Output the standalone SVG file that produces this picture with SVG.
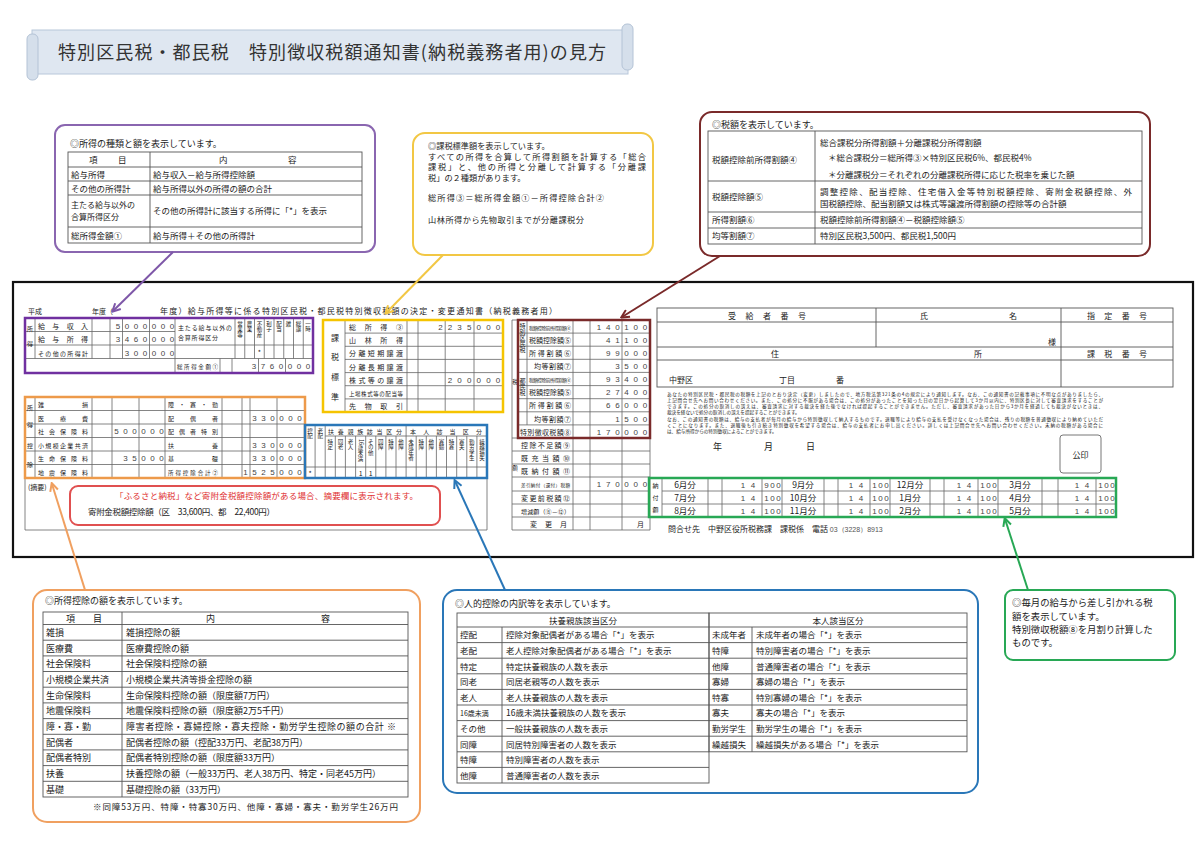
<svg xmlns="http://www.w3.org/2000/svg" width="1200" height="861" viewBox="0 0 1200 861">
<defs>
<style>
text{font-family:"Noto Sans CJK JP","Noto Sans",sans-serif;fill:#222}
.c9{font-size:9px}
.c85{font-size:8.5px}
.f8{font-size:8px}
.f7{font-size:7px}
.f6{font-size:6px}
.f5{font-size:5.5px}
.f45{font-size:4.6px}
.n{font-family:"Liberation Sans",Arial,sans-serif;font-size:8px;text-anchor:middle;fill:#444}
.m{text-anchor:middle}
.v{writing-mode:vertical-rl}
.gl{stroke:#666;stroke-width:0.8;fill:none}
.tb{stroke:#555;stroke-width:0.9;fill:none}
.co{fill:#fff;stroke-width:2}
</style>
<marker id="aP" viewBox="0 0 10 10" refX="8" refY="5" markerWidth="5" markerHeight="5" orient="auto"><path d="M1,1L9,5L1,9" fill="none" stroke="#7e57a8" stroke-width="2"/></marker>
<marker id="aY" viewBox="0 0 10 10" refX="8" refY="5" markerWidth="5" markerHeight="5" orient="auto"><path d="M1,1L9,5L1,9" fill="none" stroke="#f2c744" stroke-width="2"/></marker>
<marker id="aB" viewBox="0 0 10 10" refX="8" refY="5" markerWidth="5" markerHeight="5" orient="auto"><path d="M1,1L9,5L1,9" fill="none" stroke="#7a2a2a" stroke-width="2"/></marker>
<marker id="aO" viewBox="0 0 10 10" refX="8" refY="5" markerWidth="5" markerHeight="5" orient="auto"><path d="M1,1L9,5L1,9" fill="none" stroke="#f0a060" stroke-width="2"/></marker>
<marker id="aL" viewBox="0 0 10 10" refX="8" refY="5" markerWidth="5" markerHeight="5" orient="auto"><path d="M1,1L9,5L1,9" fill="none" stroke="#2a77b8" stroke-width="2"/></marker>
<marker id="aG" viewBox="0 0 10 10" refX="8" refY="5" markerWidth="5" markerHeight="5" orient="auto"><path d="M1,1L9,5L1,9" fill="none" stroke="#28a855" stroke-width="2"/></marker>
</defs>
<rect width="1200" height="861" fill="#fff"/>

<g id="title">
<rect x="32" y="30" width="596" height="44" fill="#dfe7f1" stroke="#b8c7da"/>
<rect x="27" y="34" width="11" height="46" rx="5" fill="#d5dfeb" stroke="#b4c3d6"/>
<rect x="622" y="24" width="11" height="46" rx="5" fill="#d5dfeb" stroke="#b4c3d6"/>
<text x="58" y="58.5" font-size="18" textLength="548" style="fill:#333">特別区民税・都民税　特別徴収税額通知書(納税義務者用)の見方</text>
</g>

<g id="callout-income">
<rect x="55" y="125" width="320" height="127" rx="10" class="co" stroke="#8a66b0"/>
<text x="70" y="147" class="c9">◎所得の種類と額を表示しています。</text>
<rect x="68" y="152" width="294" height="91" class="tb"/>
<path class="tb" d="M150 152V243M68 167H362M68 181H362M68 195H362M68 227H362"/>
<g class="c85">
<text x="89" y="163">項</text><text x="118" y="163">目</text>
<text x="219" y="163">内</text><text x="288" y="163">容</text>
<text x="71" y="177.5">給与所得</text><text x="153" y="177.5">給与収入－給与所得控除額</text>
<text x="71" y="191.5">その他の所得計</text><text x="153" y="191.5">給与所得以外の所得の額の合計</text>
<text x="71" y="207.5" class="f8">主たる給与以外の</text><text x="71" y="219.5" class="f8">合算所得区分</text>
<text x="153" y="214">その他の所得計に該当する所得に「*」を表示</text>
<text x="71" y="238.5">総所得金額①</text><text x="153" y="238.5">給与所得＋その他の所得計</text>
</g>
</g>

<g id="callout-taxbase">
<rect x="413" y="133" width="240" height="122" rx="12" class="co" stroke="#f2c744"/>
<g style="font-size:8.2px">
<text x="428" y="149">◎課税標準額を表示しています。</text>
<text x="428" y="159.5" textLength="218">すべての所得を合算して所得割額を計算する「総合</text>
<text x="428" y="170" textLength="218">課税」と、他の所得と分離して計算する「分離課</text>
<text x="428" y="180.5">税」の２種類があります。</text>
<text x="428" y="201" textLength="176">総所得③＝総所得金額①－所得控除合計②</text>
<text x="428" y="223" textLength="156">山林所得から先物取引までが分離課税分</text>
</g>
</g>

<g id="callout-taxamount">
<rect x="700" y="112" width="450" height="144" rx="12" class="co" stroke="#7a2a2a"/>
<text x="712" y="128" class="c9">◎税額を表示しています。</text>
<rect x="708" y="131" width="434" height="113" class="tb"/>
<path class="tb" d="M815 131V244M708 181H1142M708 212H1142M708 228H1142"/>
<g class="c85">
<text x="712" y="163">税額控除前所得割額④</text>
<text x="820" y="146">総合課税分所得割額＋分離課税分所得割額</text>
<text x="828" y="161">＊総合課税分＝総所得③×特別区民税6%、都民税4%</text>
<text x="828" y="178">＊分離課税分＝それぞれの分離課税所得に応じた税率を乗じた額</text>
<text x="712" y="200">税額控除額⑤</text>
<text x="820" y="195" textLength="312">調整控除、配当控除、住宅借入金等特別税額控除、寄附金税額控除、外</text>
<text x="820" y="207">国税額控除、配当割額又は株式等譲渡所得割額の控除等の合計額</text>
<text x="712" y="223">所得割額⑥</text><text x="820" y="223">税額控除前所得割額④－税額控除額⑤</text>
<text x="712" y="239">均等割額⑦</text><text x="820" y="239">特別区民税3,500円、都民税1,500円</text>
</g>
</g>

<g id="notice-form">
<rect x="13" y="282" width="1180" height="275" fill="none" stroke="#111" stroke-width="2.2"/>
<text x="28" y="314" class="f7">平成</text>
<text x="92" y="314" class="f7">年度（</text>
<text x="160" y="314" class="f8" textLength="397">年度）給与所得等に係る特別区民税・都民税特別徴収税額の決定・変更通知書（納税義務者用）</text>
<path class="gl" d="M25 478V530H487V478"/>
<text x="28" y="490" class="f7">(摘要)</text>
</g>

<g id="form-income">
<path class="gl" d="M25 331.5H175M25 345H313M25 358.5H313M35 318V358.5M92 318V358.5M110 318V358.5M122.5 318V358.5M149.5 318V358.5M175 318V373M235 318V358.5M244.75 318V358.5M254.5 318V358.5M264.25 318V358.5M274 318V358.5M283.75 318V358.5M293.5 318V358.5M303.25 318V358.5M220 358.5V373M232 358.5V373M258.5 358.5V373M285.5 358.5V373"/>
<text x="30" y="331" class="f6 m">所</text><text x="30" y="346" class="f6 m">得</text>
<text x="38" y="328.5" class="f7" textLength="50">給与収入</text>
<text x="38" y="342" class="f7" textLength="50">給与所得</text>
<text x="38" y="355.5" class="f6" textLength="50">その他の所得計</text>
<text x="118 127 136 145 154 163 172" y="328.5" class="n">5000000</text>
<text x="118 127 136 145 154 163 172" y="342" class="n">3460000</text>
<text x="127 136 145 154 163 172" y="355.5" class="n">300000</text>
<text x="178" y="330" class="f6" textLength="54">主たる給与以外の</text>
<text x="178" y="340" class="f6" textLength="40">合算所得区分</text>
<g class="f5 v">
<text x="239.9" y="321">営業等</text><text x="249.6" y="321">農業</text><text x="259.4" y="321">不動産</text><text x="269.1" y="321">利子</text>
<text x="278.9" y="321">配当</text><text x="288.6" y="321">雑</text><text x="298.4" y="321">総譲</text><text x="308.1" y="321">一時</text>
</g>
<text x="259.4" y="355" class="f7 m">*</text>
<text x="177" y="368.5" class="f5" textLength="41">総所得金額①</text>
<text x="254 263 272 281 290 299 308" y="369" class="n">3760000</text>
<rect x="25" y="318" width="288" height="55" fill="none" stroke="#7030a0" stroke-width="2.5"/>
</g>

<g id="form-deduction">
<path class="gl" d="M25 410.5H305M25 424H305M25 437.5H305M25 451H305M25 464.5H305M35 397V478M92 397V478M112 397V478M139 397V478M165 397V478M222 397V478M242 397V478M250 397V478M277 397V478"/>
<text x="30" y="410" class="f6 m">所</text><text x="30" y="427" class="f6 m">得</text><text x="30" y="448" class="f6 m">控</text><text x="30" y="467" class="f6 m">除</text>
<g class="f6">
<text x="38" y="407" textLength="50">雑損</text>
<text x="38" y="420.5" textLength="50">医療費</text>
<text x="38" y="434" textLength="50">社会保険料</text>
<text x="38" y="447.5" textLength="50">小規模企業共済</text>
<text x="38" y="461" textLength="50">生命保険料</text>
<text x="38" y="474.5" textLength="50">地震保険料</text>
<text x="168" y="407" textLength="50">障・寡・勤</text>
<text x="168" y="420.5" textLength="50">配偶者</text>
<text x="168" y="434" textLength="50">配偶者特別</text>
<text x="168" y="447.5" textLength="50">扶養</text>
<text x="168" y="461" textLength="50">基礎</text>
<text x="168" y="474.5" class="f5" textLength="50">所得控除合計②</text>
</g>
<text x="116.5 125.5 134.5 143.5 152.5 161.5" y="434" class="n">500000</text>
<text x="125.5 134.5 143.5 152.5 161.5" y="461" class="n">35000</text>
<text x="254.5 263.5 272.5 281.5 290.5 299.5" y="420.5" class="n">330000</text>
<text x="254.5 263.5 272.5 281.5 290.5 299.5" y="447.5" class="n">330000</text>
<text x="254.5 263.5 272.5 281.5 290.5 299.5" y="461" class="n">330000</text>
<text x="245.5 254.5 263.5 272.5 281.5 290.5 299.5" y="474.5" class="n">1525000</text>
<rect x="25" y="397" width="280" height="81" fill="none" stroke="#ed9a4a" stroke-width="2.5"/>
</g>

<g id="form-taxbase">
<path class="gl" d="M345 333.1H503M345 346.3H503M345 359.4H503M345 372.6H503M345 385.7H503M345 398.9H503M345 320V412M407 320V412M418 320V412M445.2 320V412M474 320V412"/>
<text x="335" y="341" class="f8 m">課</text><text x="335" y="360" class="f8 m">税</text><text x="335" y="380" class="f8 m">標</text><text x="335" y="400" class="f8 m">準</text>
<g class="f7">
<text x="349" y="330" textLength="54">総所得③</text>
<text x="349" y="343" textLength="54">山林所得</text>
<text x="349" y="356" textLength="54">分離短期譲渡</text>
<text x="349" y="369.5" textLength="54">分離長期譲渡</text>
<text x="349" y="382.5" textLength="54">株式等の譲渡</text>
<text x="349" y="395.5" class="f5" textLength="54">上場株式等の配当等</text>
<text x="349" y="409" textLength="54">先物取引</text>
</g>
<text x="440.4 450 459.6 469.2 478.8 488.4 498" y="330" class="n">2235000</text>
<text x="450 459.6 469.2 478.8 488.4 498" y="382.5" class="n">200000</text>
<rect x="323" y="320" width="180" height="92" fill="none" stroke="#f5c400" stroke-width="2.5"/>
</g>

<g id="form-personal">
<path class="gl" d="M325.2 436H487M305 467H487M315.1 425V478M325.2 425V478M335.3 436V478M345.4 436V478M355.6 436V478M365.7 436V478M375.8 436V478M385.9 436V478M396 436V478M406.1 425V478M416.2 436V478M426.3 436V478M436.4 436V478M446.5 436V478M456.7 436V478M466.8 436V478M476.9 436V478"/>
<text x="328" y="433.5" class="f6" textLength="74">扶養親族該当区分</text>
<text x="410" y="433.5" class="f6" textLength="72">本人該当区分</text>
<g class="f5 v">
<text x="310.1" y="428">控配</text><text x="320.2" y="428">老配</text>
<text x="330.3" y="439">特定</text><text x="340.4" y="439">同老</text><text x="350.5" y="439">老人</text><text x="360.6" y="439">16歳未満</text>
<text x="370.7" y="439">その他</text><text x="380.8" y="439">同障</text><text x="390.9" y="439">特障</text><text x="401" y="439">他障</text>
<text x="411.1" y="439">未成年者</text><text x="421.2" y="439">特障</text><text x="431.3" y="439">他障</text><text x="441.4" y="439">寡婦</text>
<text x="451.6" y="439">特寡</text><text x="461.7" y="439">寡夫</text><text x="471.8" y="439">勤労学生</text><text x="481.9" y="439">繰越損失</text>
</g>
<text x="310.1" y="476" class="f7 m">*</text>
<text x="360.6" y="476" class="f7 m">1</text><text x="370.7" y="476" class="f7 m">1</text>
<rect x="305" y="425" width="182" height="53" fill="none" stroke="#2a77b8" stroke-width="2.5"/>
</g>

<g id="form-taxamount">
<path class="gl" d="M512 320V530M512 320H518M518 333.1H650M518 346.2H650M518 359.3H650M518 372.4H650M518 385.6H650M518 398.7H650M518 411.8H650M518 424.9H650M527 320V424.9M573 320V530M590 320V530M622 320V530M650 438V530M512 438H650M512 451H650M512 464H650M512 477H650M512 491H650M512 504H650M512 517H650M512 530H650"/>
<text x="515" y="384" class="f5 m">税</text><text x="515" y="470" class="f5 m">額</text>
<text x="522.5" y="323" class="f6 v">特別区民税</text>
<text x="522.5" y="378" class="f6 v">都民税</text>
<text x="529" y="330" class="f45" textLength="42">税額控除前所得割額④</text>
<text x="529" y="343" class="f7" textLength="42">税額控除額⑤</text>
<text x="529" y="356" class="f7" textLength="42">所得割額⑥</text>
<text x="534" y="369" class="f7" textLength="37">均等割額⑦</text>
<text x="529" y="382" class="f45" textLength="42">税額控除前所得割額④</text>
<text x="529" y="395" class="f7" textLength="42">税額控除額⑤</text>
<text x="529" y="408" class="f7" textLength="42">所得割額⑥</text>
<text x="534" y="421.5" class="f7" textLength="37">均等割額⑦</text>
<text x="520" y="434.5" class="f7" textLength="51">特別徴収税額⑧</text>
<text x="599 608.2 617.4 626.6 635.8 645" y="330" class="n">140100</text>
<text x="608.2 617.4 626.6 635.8 645" y="343" class="n">41100</text>
<text x="608.2 617.4 626.6 635.8 645" y="356" class="n">99000</text>
<text x="617.4 626.6 635.8 645" y="369" class="n">3500</text>
<text x="608.2 617.4 626.6 635.8 645" y="382" class="n">93400</text>
<text x="608.2 617.4 626.6 635.8 645" y="395" class="n">27400</text>
<text x="608.2 617.4 626.6 635.8 645" y="408" class="n">66000</text>
<text x="617.4 626.6 635.8 645" y="421.5" class="n">1500</text>
<text x="599 608.2 617.4 626.6 635.8 645" y="434.5" class="n">170000</text>
<text x="521" y="447.5" class="f7" textLength="49">控除不足額⑨</text>
<text x="521" y="460.5" class="f7" textLength="49">既充当額⑩</text>
<text x="521" y="473.5" class="f7" textLength="49">既納付額⑪</text>
<text x="521" y="486.5" class="f45" textLength="49">差引納付（還付）税額</text>
<text x="599 608.2 617.4 626.6 635.8 645" y="487" class="n">170000</text>
<text x="521" y="500.5" class="f7" textLength="49">変更前税額⑫</text>
<text x="521" y="513.5" class="f6" textLength="49">増減額（⑧－⑫）</text>
<text x="530" y="526.5" class="f7" textLength="37">変更月</text>
<text x="637" y="526.5" class="f7">月</text>
<rect x="518" y="320" width="132" height="118" fill="none" stroke="#7a2a2a" stroke-width="2.5"/>
</g>

<g id="form-recipient">
<rect x="657" y="308" width="516" height="79" class="tb"/>
<path class="tb" d="M657 322H1173M657 347H1173M657 360H1173M876 308V347M1061 308V387"/>
<g class="f8">
<text x="728" y="318.5" textLength="78">受給者番号</text>
<text x="920" y="318.5">氏</text><text x="1009" y="318.5">名</text>
<text x="1087" y="318.5" textLength="60">指定番号</text>
<text x="1048" y="345">様</text>
<text x="771" y="357">住</text><text x="974" y="357">所</text>
<text x="1087" y="357" textLength="60">課税番号</text>
<text x="669" y="383">中野区</text><text x="779" y="383">丁目</text><text x="836" y="383">番</text>
</g>
<g class="f45">
<text x="667" y="396" textLength="436">あなたの特別区民税・都民税の税額を上記のとおり決定（変更）しましたので、地方税法第321条の4の規定により通知します。なお、この通知書の記載事項に不明な点がありましたら、</text>
<text x="667" y="402" textLength="436">上記問合せ先へお問い合わせください。また、この処分に不服がある場合は、この処分があったことを知った日の翌日から起算して3か月以内に、特別区長に対して審査請求をすることが</text>
<text x="667" y="408" textLength="436">できます。この処分の取消しの訴えは、審査請求に対する裁決を経た後でなければ提起することができません。ただし、審査請求があった日から3か月を経過しても裁決がないときは、</text>
<text x="667" y="414">裁決を経ないで処分の取消しの訴えを提起することができます。</text>
<text x="667" y="421" textLength="436">なお、この通知書の税額は、給与の支払者が毎月の給与から特別徴収して納入するものです。退職等により給与の支払を受けなくなった場合は、残りの税額を普通徴収により納めていただ</text>
<text x="667" y="427" textLength="436">くことになります。また、退職後も引き続き特別徴収を希望する場合は、給与の支払者にお申し出ください。詳しくは上記問合せ先へお問い合わせください。未納の税額がある場合に</text>
<text x="667" y="433">は、給与所得からの特別徴収によることができます。</text>
</g>
<text x="713" y="450" class="c9">年</text><text x="764" y="450" class="c9">月</text><text x="806" y="450" class="c9">日</text>
<rect x="1060" y="435" width="41" height="38" rx="3" fill="none" stroke="#777" stroke-width="1"/>
<text x="1080.5" y="458" class="f8 m">公印</text>
<text x="668" y="532" class="f8">問合せ先　中野区役所税務課　課税係　電話 <tspan style="font-family:'Liberation Sans',sans-serif;font-size:7px;fill:#555">03（3228）8913</tspan></text>
</g>

<g id="form-monthly">
<path class="gl" d="M662 491H1116M662 504H1116M662 478V517M708 478V517M722 478V517M762 478V517M782 478V517M824 478V517M838 478V517M870 478V517M890 478V517M930 478V517M944 478V517M978 478V517M998 478V517M1042 478V517M1058 478V517M1096 478V517"/>
<text x="655.5" y="488" class="f6 m">納</text><text x="655.5" y="500" class="f6 m">付</text><text x="655.5" y="512" class="f6 m">額</text>
<g class="c85 m">
<text x="685" y="488">6月分</text><text x="803" y="488">9月分</text><text x="910" y="488">12月分</text><text x="1020" y="488">3月分</text>
<text x="685" y="501">7月分</text><text x="803" y="501">10月分</text><text x="910" y="501">1月分</text><text x="1020" y="501">4月分</text>
<text x="685" y="514">8月分</text><text x="803" y="514">11月分</text><text x="910" y="514">2月分</text><text x="1020" y="514">5月分</text>
</g>
<text x="743 753 766.5 772.5 778.5" y="488" class="n">14900</text>
<text x="743 753 766.5 772.5 778.5" y="501" class="n">14100</text>
<text x="743 753 766.5 772.5 778.5" y="514" class="n">14100</text>
<text x="851 861 874.5 880.5 886.5" y="488" class="n">14100</text>
<text x="851 861 874.5 880.5 886.5" y="501" class="n">14100</text>
<text x="851 861 874.5 880.5 886.5" y="514" class="n">14100</text>
<text x="959 969 982.5 988.5 994.5" y="488" class="n">14100</text>
<text x="959 969 982.5 988.5 994.5" y="501" class="n">14100</text>
<text x="959 969 982.5 988.5 994.5" y="514" class="n">14100</text>
<text x="1077 1087 1100.5 1106.5 1112.5" y="488" class="n">14100</text>
<text x="1077 1087 1100.5 1106.5 1112.5" y="501" class="n">14100</text>
<text x="1077 1087 1100.5 1106.5 1112.5" y="514" class="n">14100</text>
<rect x="649" y="478" width="467" height="39" fill="none" stroke="#28a855" stroke-width="2.5"/>
</g>

<g id="note-furusato">
<rect x="70" y="486" width="370" height="39" rx="8" fill="#fff" stroke="#e05050" stroke-width="2"/>
<text x="115" y="499" class="c85" textLength="303" style="fill:#e03030">「ふるさと納税」など寄附金税額控除額がある場合、摘要欄に表示されます。</text>
<text x="88" y="515" class="c85" textLength="187">寄附金税額控除額（区　33,600円、都　22,400円）</text>
</g>

<g id="callout-deduction">
<rect x="33" y="590" width="387" height="232" rx="14" class="co" stroke="#f0a060"/>
<text x="45" y="604" class="c9">◎所得控除の額を表示しています。</text>
<rect x="43" y="612" width="365" height="185" class="tb"/>
<path class="tb" d="M122 612V797M43 624.5H408M43 640.2H408M43 655.9H408M43 671.5H408M43 687.2H408M43 702.9H408M43 718.6H408M43 734.3H408M43 749.9H408M43 765.6H408M43 781.3H408"/>
<g class="c9">
<text x="66" y="621.5">項</text><text x="93" y="621.5">目</text><text x="206" y="621.5">内</text><text x="321" y="621.5">容</text>
<text x="46" y="635.8">雑損</text><text x="126" y="635.8">雑損控除の額</text>
<text x="46" y="651.5">医療費</text><text x="126" y="651.5">医療費控除の額</text>
<text x="46" y="667.2">社会保険料</text><text x="126" y="667.2">社会保険料控除の額</text>
<text x="46" y="682.8">小規模企業共済</text><text x="126" y="682.8">小規模企業共済等掛金控除の額</text>
<text x="46" y="698.5">生命保険料</text><text x="126" y="698.5">生命保険料控除の額（限度額7万円）</text>
<text x="46" y="714.2">地震保険料</text><text x="126" y="714.2">地震保険料控除の額（限度額2万5千円）</text>
<text x="46" y="729.9">障・寡・勤</text><text x="126" y="729.9" textLength="270">障害者控除・寡婦控除・寡夫控除・勤労学生控除の額の合計 ※</text>
<text x="46" y="745.6">配偶者</text><text x="126" y="745.6">配偶者控除の額（控配33万円、老配38万円）</text>
<text x="46" y="761.2">配偶者特別</text><text x="126" y="761.2">配偶者特別控除の額（限度額33万円）</text>
<text x="46" y="776.9">扶養</text><text x="126" y="776.9">扶養控除の額（一般33万円、老人38万円、特定・同老45万円）</text>
<text x="46" y="792.6">基礎</text><text x="126" y="792.6">基礎控除の額（33万円）</text>
</g>
<text x="93" y="810" class="c85" textLength="305">※同障53万円、特障・特寡30万円、他障・寡婦・寡夫・勤労学生26万円</text>
</g>

<g id="callout-personal">
<rect x="443" y="590" width="535" height="203" rx="14" class="co" stroke="#2a77b8"/>
<text x="455" y="607" class="c9">◎人的控除の内訳等を表示しています。</text>
<rect x="457" y="613" width="252" height="170" class="tb"/>
<rect x="709" y="613" width="258" height="138.8" class="tb"/>
<path class="tb" d="M457 627H967M457 642.6H967M457 658.2H967M457 673.8H967M457 689.4H967M457 705H967M457 720.6H967M457 736.2H967M457 751.8H709M457 767.4H709M502 627V783M752 627V751.8"/>
<g class="c85">
<text x="583" y="623.5" class="m">扶養親族該当区分</text><text x="838" y="623.5" class="m">本人該当区分</text>
<text x="460" y="638.3">控配</text><text x="506" y="638.3">控除対象配偶者がある場合「*」を表示</text>
<text x="460" y="653.9">老配</text><text x="506" y="653.9">老人控除対象配偶者がある場合「*」を表示</text>
<text x="460" y="669.5">特定</text><text x="506" y="669.5">特定扶養親族の人数を表示</text>
<text x="460" y="685.1">同老</text><text x="506" y="685.1">同居老親等の人数を表示</text>
<text x="460" y="700.7">老人</text><text x="506" y="700.7">老人扶養親族の人数を表示</text>
<text x="460" y="716.3" class="f7">16歳未満</text><text x="506" y="716.3">16歳未満扶養親族の人数を表示</text>
<text x="460" y="731.9">その他</text><text x="506" y="731.9">一般扶養親族の人数を表示</text>
<text x="460" y="747.5">同障</text><text x="506" y="747.5">同居特別障害者の人数を表示</text>
<text x="460" y="763.1">特障</text><text x="506" y="763.1">特別障害者の人数を表示</text>
<text x="460" y="778.7">他障</text><text x="506" y="778.7">普通障害者の人数を表示</text>
<text x="712" y="638.3">未成年者</text><text x="756" y="638.3">未成年者の場合「*」を表示</text>
<text x="712" y="653.9">特障</text><text x="756" y="653.9">特別障害者の場合「*」を表示</text>
<text x="712" y="669.5">他障</text><text x="756" y="669.5">普通障害者の場合「*」を表示</text>
<text x="712" y="685.1">寡婦</text><text x="756" y="685.1">寡婦の場合「*」を表示</text>
<text x="712" y="700.7">特寡</text><text x="756" y="700.7">特別寡婦の場合「*」を表示</text>
<text x="712" y="716.3">寡夫</text><text x="756" y="716.3">寡夫の場合「*」を表示</text>
<text x="712" y="731.9">勤労学生</text><text x="756" y="731.9">勤労学生の場合「*」を表示</text>
<text x="712" y="747.5">繰越損失</text><text x="756" y="747.5">繰越損失がある場合「*」を表示</text>
</g>
</g>

<g id="callout-monthly">
<rect x="1005" y="590" width="170" height="70" rx="8" class="co" stroke="#28a855"/>
<g style="font-size:9.4px">
<text x="1012" y="606">◎毎月の給与から差し引かれる税</text>
<text x="1012" y="620">額を表示しています。</text>
<text x="1012" y="633">特別徴収税額⑧を月割り計算した</text>
<text x="1012" y="646">ものです。</text>
</g>
</g>

<g id="connectors" fill="none" stroke-width="2">
<line x1="173" y1="252" x2="113" y2="311" stroke="#7e57a8" marker-end="url(#aP)"/>
<line x1="443" y1="255" x2="386" y2="313" stroke="#f2c744" marker-end="url(#aY)"/>
<line x1="720" y1="256" x2="622" y2="317" stroke="#7a2a2a" marker-end="url(#aB)"/>
<line x1="85" y1="590" x2="52" y2="484" stroke="#f0a060" marker-end="url(#aO)"/>
<line x1="505" y1="590" x2="455" y2="481" stroke="#2a77b8" marker-end="url(#aL)"/>
<line x1="1028" y1="590" x2="1005" y2="519" stroke="#28a855" marker-end="url(#aG)"/>
</g>
</svg>
